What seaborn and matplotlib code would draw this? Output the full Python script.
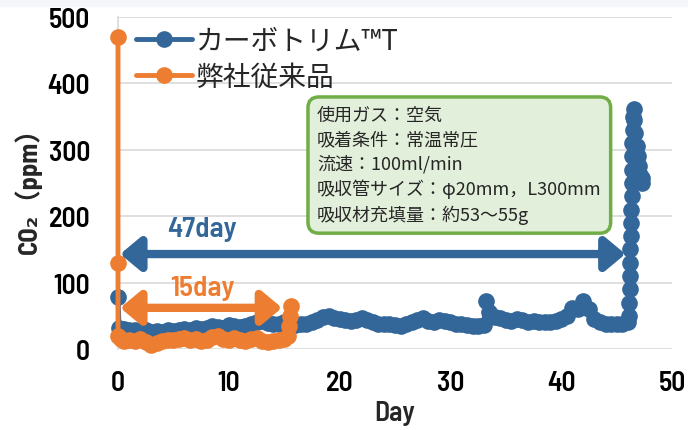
import matplotlib
matplotlib.use("Agg")
import matplotlib.pyplot as plt
import seaborn as sns
import pandas as pd
from matplotlib.patches import Rectangle

# CO2 breakthrough data
carbo_day = [0, 0.1, 0.5, 1, 1.5, 2, 2.5, 3, 3.5, 4, 4.5, 5, 5.5, 6, 6.5, 7, 7.5, 8,
             8.5, 9, 9.5, 10, 10.5, 11, 11.5, 12, 12.5, 13, 13.5, 14, 14.5, 15,
             15.5, 16, 16.5, 17, 17.5, 18, 18.5, 19, 19.5, 20, 20.5, 21, 21.5, 22,
             22.5, 23, 23.5, 24, 24.5, 25, 25.5, 26, 26.5, 27, 27.5, 28, 28.5, 29,
             29.5, 30, 30.5, 31, 31.5, 32, 32.5, 33, 33.2, 33.5, 34, 34.5, 35, 35.5,
             36, 36.5, 37, 37.5, 38, 38.5, 39, 39.5, 40, 40.5, 41, 41.5, 42, 42.5,
             43, 43.5, 44, 44.5, 45, 45.5, 46, 46.1, 46.15, 46.2, 46.2, 46.25, 46.25,
             46.3, 46.3, 46.3, 46.35, 46.35, 46.4, 46.4, 46.4, 46.45, 46.5, 46.55,
             46.6, 46.7, 46.8, 46.9, 47.0, 47.1, 47.2, 47.3, 47.25]
carbo_ppm = [78, 32, 30, 28, 29, 27, 28, 26, 27, 26, 28, 27, 29, 30, 29, 31, 30, 32,
             35, 33, 32, 36, 34, 33, 35, 38, 40, 42, 39, 37, 38, 40,
             38, 36, 37, 38, 40, 44, 48, 50, 47, 45, 44, 42, 44, 46,
             43, 40, 38, 37, 38, 36, 35, 37, 40, 43, 46, 42, 40, 44,
             42, 40, 38, 37, 36, 35, 34, 36, 72, 55, 48, 46, 44, 42,
             45, 43, 41, 42, 40, 41, 40, 42, 45, 50, 62, 60, 72, 60,
             45, 40, 38, 38, 38, 38, 40, 50, 70, 90, 110, 130, 150,
             170, 190, 210, 230, 250, 270, 290, 310, 330, 350, 362,
             345, 325, 305, 290, 275, 262, 255, 258, 250]

legacy_day = [0, 0, 0, 0.25, 0.5, 1, 1.5, 2, 2.5, 3, 3.5, 4, 4.5, 5, 5.5, 6, 6.5, 7,
              7.5, 8, 8.5, 9, 9.5, 10, 10.5, 11, 11.5, 12, 12.5, 13, 13.5, 14, 14.5,
              15, 15.3, 15.4, 15.5, 15.6]
legacy_ppm = [470, 130, 20, 15, 12, 14, 12, 15, 10, 6, 9, 12, 14, 13, 15, 16, 14, 15,
              12, 14, 18, 20, 15, 13, 16, 14, 12, 15, 16, 12, 10, 12, 14,
              15, 20, 35, 50, 65]

series_names = ["カーボトリム™T", "弊社従来品"]
conditions = ["使用ガス：空気", "吸着条件：常温常圧", "流速：100ml/min",
              "吸収管サイズ：φ20mm，L300mm", "吸収材充填量：約53～55g"]
x_ticks = [0, 10, 20, 30, 40, 50]
y_ticks = [0, 100, 200, 300, 400, 500]

blue = "#336699"
orange = "#ED7D31"
num_font = ["Barlow Semi Condensed", "Noto Sans CJK JP", "DejaVu Sans"]
jp_font = ["Noto Sans CJK JP", "DejaVu Sans"]

df = pd.concat([
    pd.DataFrame({"day": carbo_day, "ppm": carbo_ppm, "series": series_names[0]}),
    pd.DataFrame({"day": legacy_day, "ppm": legacy_ppm, "series": series_names[1]}),
], ignore_index=True)

sns.set_theme(style="white")
plt.rcParams["font.family"] = num_font

fig = plt.figure(figsize=(6.88, 4.31), dpi=100)
fig.patches.append(Rectangle((0, 1 - 7 / 431), 1, 7 / 431, transform=fig.transFigure,
                             color="#F4F6FA", zorder=0))
ax = fig.add_axes([118 / 688, 1 - 350 / 431, (672 - 118) / 688, (350 - 18) / 431])

sns.lineplot(data=df, x="day", y="ppm", hue="series", palette=[blue, orange],
             estimator=None, sort=False, marker="o", markersize=12, markeredgewidth=0,
             linewidth=3.5, ax=ax, clip_on=False, zorder=3)

ax.set_xlim(0, 50)
ax.set_ylim(0, 500)
ax.set_xticks(x_ticks)
ax.set_yticks(y_ticks)
ax.grid(axis="y", color="#D9D9D9", linewidth=1.2)
for side in ["top", "right", "bottom"]:
    ax.spines[side].set_visible(False)
ax.spines["left"].set_color("#D9D9D9")
ax.spines["left"].set_linewidth(1.2)
ax.tick_params(axis="both", length=0, labelsize=20, colors="black")
ax.tick_params(axis="x", pad=15)
ax.tick_params(axis="y", pad=20)
for lab in ax.get_xticklabels() + ax.get_yticklabels():
    lab.set_fontweight("semibold")

ax.set_xlabel("Day", fontsize=20, fontweight="semibold", labelpad=4)
ax.set_ylabel("CO₂（ppm）", fontsize=19, fontweight="bold", labelpad=4)

# arrows for breakthrough periods
ax.annotate("", xy=(0.2, 143), xytext=(45.8, 143),
            arrowprops=dict(arrowstyle="<|-|>,head_length=0.6,head_width=0.5",
                            color=blue, lw=6, mutation_scale=20, shrinkA=0, shrinkB=0))
ax.annotate("", xy=(0.2, 62), xytext=(14.8, 62),
            arrowprops=dict(arrowstyle="<|-|>,head_length=0.6,head_width=0.5",
                            color=orange, lw=6, mutation_scale=20, shrinkA=0, shrinkB=0))
ax.text(7.6, 181, "47day", color=blue, fontsize=21, fontweight="semibold",
        ha="center", va="center")
ax.text(7.6, 92, "15day", color=orange, fontsize=21, fontweight="semibold",
        ha="center", va="center")

# test conditions box
fig.text(317 / 688, 1 - 107 / 431, "\n".join(conditions), fontsize=13, family=jp_font,
         ha="left", va="top", linespacing=1.42,
         bbox=dict(boxstyle="round,pad=0.5,rounding_size=0.6", facecolor="#E2EFDA",
                   edgecolor="#70AD47", linewidth=2.5))

handles, labels = ax.get_legend_handles_labels()
ax.legend(handles, labels, loc="upper left", bbox_to_anchor=(136 / 688, 1 - 27 / 431),
          bbox_transform=fig.transFigure, frameon=False, borderpad=0, borderaxespad=0,
          handlelength=2.0, handletextpad=0.15, labelspacing=0.2,
          prop={"family": jp_font, "size": 20})

fig.savefig("out.png", dpi=100)
